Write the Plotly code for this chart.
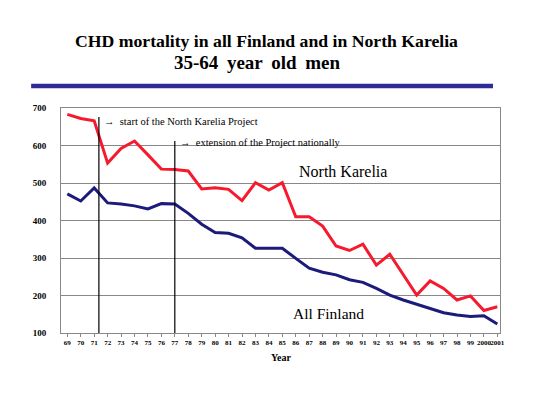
import plotly.graph_objects as go

years = list(range(1969, 2002))
tick_labels = [str(y)[2:] for y in range(1969, 2000)] + ["2000", "2001"]

north_karelia = [683, 672, 666, 553, 592, 612, 575, 537, 536, 532, 484, 487, 483, 453,
                 501, 481, 501, 410, 410, 385, 332, 320, 337, 281, 310, 255, 201, 239,
                 219, 188, 199, 160, 170]
all_finland = [471, 452, 487, 447, 444, 439, 431, 445, 444, 419, 390, 368, 366, 354,
               326, 326, 326, 299, 273, 262, 255, 242, 235, 219, 201, 188, 177, 166,
               154, 148, 144, 146, 124]

event_years = [1971.35, 1977.0]
event_tops = [676, 612]
event_text_y = [664, 607]
event_labels = ["start of the North Karelia Project", "extension of the Project nationally"]

serif = "Liberation Serif"

fig = go.Figure()
fig.add_trace(go.Scatter(x=years, y=north_karelia, mode="lines",
                         line=dict(color="#f51a2e", width=3), name="North Karelia"))
fig.add_trace(go.Scatter(x=years, y=all_finland, mode="lines",
                         line=dict(color="#1c1a7a", width=3), name="All Finland"))

shapes = []
annotations = []
for yr, top, ty, lab in zip(event_years, event_tops, event_text_y, event_labels):
    shapes.append(dict(type="line", xref="x", yref="y", x0=yr, x1=yr, y0=100, y1=top,
                       line=dict(color="black", width=1.2)))
    annotations.append(dict(xref="x", yref="y", x=yr + 0.25, y=ty,
                            text="<b>\u2192</b>  " + lab, showarrow=False, xanchor="left",
                            font=dict(family=serif, size=10.5, color="black")))

annotations += [
    dict(xref="paper", yref="paper", x=0.468, y=1, xanchor="center", yanchor="bottom",
         text="<b>CHD mortality in all Finland and in North Karelia</b>", showarrow=False,
         font=dict(family=serif, size=17.7, color="black"), yshift=55),
    dict(xref="paper", yref="paper", x=0.447, y=1, xanchor="center", yanchor="bottom",
         text="<b>35-64\u2009 year\u2009 old\u2009 men</b>", showarrow=False,
         font=dict(family=serif, size=19, color="black"), yshift=33),
    dict(xref="x", yref="y", x=1989.5, y=532, text="North Karelia", showarrow=False,
         xanchor="center", font=dict(family=serif, size=16, color="black")),
    dict(xref="x", yref="y", x=1988.4, y=151, text="All Finland", showarrow=False,
         xanchor="center", font=dict(family=serif, size=15.5, color="black")),
    dict(xref="paper", yref="paper", x=0.502, y=0, xanchor="center", yanchor="top",
         text="<b>Year</b>", showarrow=False, yshift=-17,
         font=dict(family=serif, size=10, color="black")),
]

shapes.append(dict(type="line", xref="paper", yref="paper", x0=-0.068, x1=0.984,
                   y0=1.098, y1=1.098, line=dict(color="#2e2a96", width=4.5)))

fig.update_layout(
    width=532, height=397,
    margin=dict(l=53, r=40, t=100, b=72),
    paper_bgcolor="white", plot_bgcolor="white",
    showlegend=False,
    shapes=shapes, annotations=annotations,
    xaxis=dict(range=[1968.53, 2001.2], tickmode="array", tickvals=years,
               ticktext=["<b>%s</b>" % t for t in tick_labels],
               tickfont=dict(family=serif, size=7, color="black"),
               ticks="outside", ticklen=3, tickcolor="#888", showgrid=False,
               showline=True, linecolor="#888", mirror=True, zeroline=False,
               tickangle=0),
    yaxis=dict(range=[100, 700], tickvals=[100, 200, 300, 400, 500, 600, 700],
               ticktext=["<b>%d</b>" % v for v in [100, 200, 300, 400, 500, 600, 700]],
               tickfont=dict(family=serif, size=9, color="black"),
               ticklabelstandoff=12,
               showgrid=True, gridcolor="#888", gridwidth=1,
               showline=True, linecolor="#888", mirror=True, zeroline=False),
)

fig.write_html("out.html")
